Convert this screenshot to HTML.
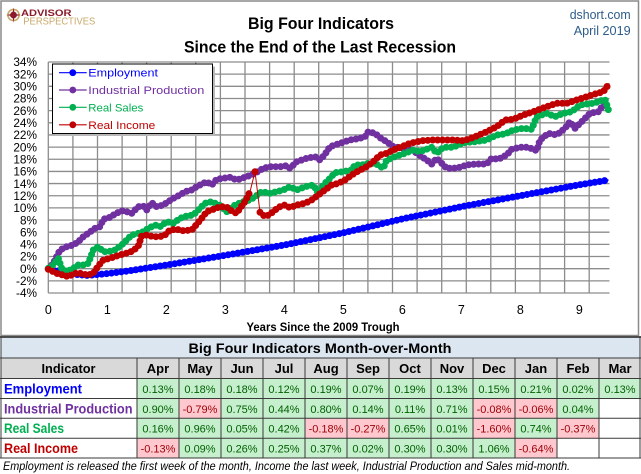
<!DOCTYPE html>
<html><head><meta charset="utf-8"><style>
html,body{margin:0;padding:0;background:#fff;}
svg{display:block;font-family:"Liberation Sans",sans-serif;}
</style></head><body>
<svg width="641" height="474" viewBox="0 0 641 474" xmlns="http://www.w3.org/2000/svg">
<rect x="0" y="0" width="641" height="474" fill="#fff"/>
<rect x="1" y="1" width="637.5" height="334.5" fill="#fff" stroke="#8a8a8a" stroke-width="1.5"/>
<circle cx="13.5" cy="15" r="5.6" fill="none" stroke="#c9a86a" stroke-width="1.6"/>
<circle cx="13.5" cy="15" r="3.4" fill="#8b1b2b"/>
<polygon points="13.5,7.5 14.6,13.9 21,15 14.6,16.1 13.5,22.5 12.4,16.1 6,15 12.4,13.9" fill="#8b1b2b"/>
<text x="21" y="16" font-size="9.6" font-weight="bold" fill="#8b1b2b" textLength="50.5" lengthAdjust="spacingAndGlyphs">ADVISOR</text>
<text x="23.3" y="24.3" font-size="9.8" fill="#c9a86a" textLength="72" lengthAdjust="spacingAndGlyphs">PERSPECTIVES</text>
<text x="321" y="29" font-size="17" font-weight="bold" text-anchor="middle" fill="#000" textLength="146" lengthAdjust="spacingAndGlyphs">Big Four Indicators</text>
<text x="320" y="52.5" font-size="17" font-weight="bold" text-anchor="middle" fill="#000" textLength="272" lengthAdjust="spacingAndGlyphs">Since the End of the Last Recession</text>
<text x="630.7" y="19" font-size="13" text-anchor="end" fill="#2e5c8a" textLength="61" lengthAdjust="spacingAndGlyphs">dshort.com</text>
<text x="630.7" y="35" font-size="13" text-anchor="end" fill="#2e5c8a" textLength="57" lengthAdjust="spacingAndGlyphs">April 2019</text>
<g stroke="#8c8c8c" stroke-width="1.3" fill="none">
<path d="M48.3 62H609.5M48.3 74.16H609.5M48.3 86.32H609.5M48.3 98.47H609.5M48.3 110.63H609.5M48.3 122.79H609.5M48.3 134.95H609.5M48.3 147.11H609.5M48.3 159.26H609.5M48.3 171.42H609.5M48.3 183.58H609.5M48.3 195.74H609.5M48.3 207.9H609.5M48.3 220.05H609.5M48.3 232.21H609.5M48.3 244.37H609.5M48.3 256.53H609.5M48.3 268.69H609.5M48.3 280.84H609.5M48.3 293H609.5"/>
<path d="M48.3 62V293M72.9 62V293M97.5 62V293M122.1 62V293M146.6 62V293M171.2 62V293M195.8 62V293M220.4 62V293M245 62V293M269.6 62V293M294.2 62V293M318.7 62V293M343.3 62V293M367.9 62V293M392.5 62V293M417.1 62V293M441.7 62V293M466.3 62V293M490.8 62V293M515.4 62V293M540 62V293M564.6 62V293M589.2 62V293"/>
</g>
<g font-size="11.8" fill="#000" text-anchor="end">
<text x="37" y="66.2">34%</text><text x="37" y="78.4">32%</text><text x="37" y="90.5">30%</text><text x="37" y="102.7">28%</text><text x="37" y="114.8">26%</text><text x="37" y="127">24%</text><text x="37" y="139.2">22%</text><text x="37" y="151.3">20%</text><text x="37" y="163.5">18%</text><text x="37" y="175.6">16%</text><text x="37" y="187.8">14%</text><text x="37" y="199.9">12%</text><text x="37" y="212.1">10%</text><text x="37" y="224.3">8%</text><text x="37" y="236.4">6%</text><text x="37" y="248.6">4%</text><text x="37" y="260.7">2%</text><text x="37" y="272.9">0%</text><text x="37" y="285">-2%</text><text x="37" y="297.2">-4%</text>
</g>
<g font-size="12.5" fill="#000" text-anchor="middle">
<text x="48.3" y="314">0</text><text x="107.3" y="314">1</text><text x="166.3" y="314">2</text><text x="225.3" y="314">3</text><text x="284.3" y="314">4</text><text x="343.3" y="314">5</text><text x="402.3" y="314">6</text><text x="461.3" y="314">7</text><text x="520.3" y="314">8</text><text x="579.3" y="314">9</text>
</g>
<text x="323" y="331" font-size="12" font-weight="bold" text-anchor="middle" fill="#000" textLength="153" lengthAdjust="spacingAndGlyphs">Years Since the 2009 Trough</text>

<g fill="none" stroke-linejoin="round">
<polyline stroke="#0000ff" stroke-width="1" points="48.3,268.7 58.1,271.1 72.9,274.2 87.6,275.4 107.3,273.6 127,271.1 146.6,268.1 166.3,265.1 195.8,260.2 225.3,255.3 284.3,245 343.3,232.8 402.3,218.9 461.3,206.7 520.3,195.7 579.3,184.8 608.8,180"/>
<polyline stroke="#0000ff" stroke-width="7" stroke-linecap="round" stroke-dasharray="0 4.92" points="48.3,268.7 58.1,271.1 72.9,274.2 87.6,275.4 107.3,273.6 127,271.1 146.6,268.1 166.3,265.1 195.8,260.2 225.3,255.3 284.3,245 343.3,232.8 402.3,218.9 461.3,206.7 520.3,195.7 579.3,184.8 608.8,180"/>
<polyline stroke="#7030a0" stroke-width="1" points="48.3,268.7 53.3,263.3 60,250 66.7,246.7 73.3,245 78.3,241.7 83.3,236.7 88.3,233.3 95,228.3 100,226.7 103.3,219.3 110,217.3 115,214 121.7,210.7 126.7,211.7 131.7,213.3 138.3,206.7 143.3,206 146.7,210 151.7,202.7 156.7,206.7 163.3,205 168.3,201.7 173.3,198.3 180,195 185,191.7 191.7,190 196.7,186.7 203.3,183.3 206.7,181.7 211.7,185 216.7,179.3 223.3,178.3 230,177.3 236.7,180 246.7,176.7 255,173.3 263.3,168.3 270,166.7 280,166.7 286.7,165.7 290,168.3 296.7,161.7 306.7,158.3 315,156.7 320,160 325,154.3 330,146.7 340,143.3 350,140 360,138.3 365,136.7 368.3,131.7 375,133.3 380,137.7 386.7,141.7 393.3,146.7 401,148 410,148.3 416.7,153.3 426.7,160 431.7,164 436.7,158.3 441.7,163.3 446.7,168.3 453.3,168.3 460,167.3 466.7,165 476.7,164 486.7,164 491.7,158.3 498.3,159.3 506.7,155 511.7,149.3 520,147.3 528.3,147.3 536.7,150.7 540,140 548.3,133.3 556.7,135 565,128.3 570,121.7 575,128.3 581.7,121.7 590,113.3 598.3,111.7 603.3,105 609,105"/>
<polyline stroke="#7030a0" stroke-width="7" stroke-linecap="round" stroke-dasharray="0 4.92" points="48.3,268.7 53.3,263.3 60,250 66.7,246.7 73.3,245 78.3,241.7 83.3,236.7 88.3,233.3 95,228.3 100,226.7 103.3,219.3 110,217.3 115,214 121.7,210.7 126.7,211.7 131.7,213.3 138.3,206.7 143.3,206 146.7,210 151.7,202.7 156.7,206.7 163.3,205 168.3,201.7 173.3,198.3 180,195 185,191.7 191.7,190 196.7,186.7 203.3,183.3 206.7,181.7 211.7,185 216.7,179.3 223.3,178.3 230,177.3 236.7,180 246.7,176.7 255,173.3 263.3,168.3 270,166.7 280,166.7 286.7,165.7 290,168.3 296.7,161.7 306.7,158.3 315,156.7 320,160 325,154.3 330,146.7 340,143.3 350,140 360,138.3 365,136.7 368.3,131.7 375,133.3 380,137.7 386.7,141.7 393.3,146.7 401,148 410,148.3 416.7,153.3 426.7,160 431.7,164 436.7,158.3 441.7,163.3 446.7,168.3 453.3,168.3 460,167.3 466.7,165 476.7,164 486.7,164 491.7,158.3 498.3,159.3 506.7,155 511.7,149.3 520,147.3 528.3,147.3 536.7,150.7 540,140 548.3,133.3 556.7,135 565,128.3 570,121.7 575,128.3 581.7,121.7 590,113.3 598.3,111.7 603.3,105 609,105"/>
<polyline stroke="#00b050" stroke-width="1" points="48.3,268.3 53.3,265 58.3,258.3 61.7,268.3 66.7,271.7 73.3,268.3 78.3,265 83.3,265 88.3,263.3 93.3,250 98.3,246.7 103.3,251.7 108.3,251.7 115,250 121.7,245 126.7,240 131.7,235 138.3,233.3 143.3,231.7 148.3,228.3 155,225 160,226.7 166.7,221.7 173.3,223.3 180,218.3 186.7,216 193.3,215 198.3,210 205,203.3 211.7,201.7 220,205.5 226.7,211.7 235,205 243.3,201.7 250,200 255,196.7 261.7,191.7 270,193.3 276.7,191.7 283.3,190 290,186.7 296.7,190 305,186.7 313.3,185 318.3,193.3 323.3,185 330,178.3 335,172.7 343.3,171.7 351.7,170 355,165 361.7,165 368.3,163.3 375,163.3 383.3,168.3 386.7,160 395,156.7 405,153.3 413.3,150 420,151.7 431.7,147.3 436.7,153.3 443.3,147.3 453.3,147.3 463.3,142.7 475,141.7 486.7,140 496.7,135 505,134 513.3,130 523.3,128.3 531.7,129.3 536.7,116.7 546.7,113.3 555,116.7 563.3,113.3 571.7,111.7 580,105 586.7,104 593.3,103.3 598.3,101.7 605,99.3 609.3,112.7"/>
<polyline stroke="#00b050" stroke-width="7" stroke-linecap="round" stroke-dasharray="0 4.92" points="48.3,268.3 53.3,265 58.3,258.3 61.7,268.3 66.7,271.7 73.3,268.3 78.3,265 83.3,265 88.3,263.3 93.3,250 98.3,246.7 103.3,251.7 108.3,251.7 115,250 121.7,245 126.7,240 131.7,235 138.3,233.3 143.3,231.7 148.3,228.3 155,225 160,226.7 166.7,221.7 173.3,223.3 180,218.3 186.7,216 193.3,215 198.3,210 205,203.3 211.7,201.7 220,205.5 226.7,211.7 235,205 243.3,201.7 250,200 255,196.7 261.7,191.7 270,193.3 276.7,191.7 283.3,190 290,186.7 296.7,190 305,186.7 313.3,185 318.3,193.3 323.3,185 330,178.3 335,172.7 343.3,171.7 351.7,170 355,165 361.7,165 368.3,163.3 375,163.3 383.3,168.3 386.7,160 395,156.7 405,153.3 413.3,150 420,151.7 431.7,147.3 436.7,153.3 443.3,147.3 453.3,147.3 463.3,142.7 475,141.7 486.7,140 496.7,135 505,134 513.3,130 523.3,128.3 531.7,129.3 536.7,116.7 546.7,113.3 555,116.7 563.3,113.3 571.7,111.7 580,105 586.7,104 593.3,103.3 598.3,101.7 605,99.3 609.3,112.7"/>
<polyline stroke="#c00000" stroke-width="1" points="48.3,269.3 53.3,271.7 58.3,274 63.3,275 68.3,276.7 73.3,274 78.3,272.7 83.3,274.3 88.3,275 93.3,273.3 98.3,266 103.3,260 110,258.3 116.7,256 123.3,254 128.3,252.7 133.3,250.7 138.3,246 141.7,236 146.7,235 153.3,236.7 160,236.7 165,235 170,230 176.7,229.3 183.3,230.7 191.7,230 196.7,224.3 201.7,218.3 206.7,211.7 213.3,209.3 220,206.7 226.7,207 231.7,211 236.7,213.3 240,208.3 245,201.7 250,191.7 255,171.7 260,212.3 265,216.7 270,214.3 275,210 280,206.7 285,205 290,207.7 296.7,205 305,203.3 311.7,200 318.3,195 325,190 331.7,185 338.3,183.3 345,180 351.7,175 358.3,171 366.7,166.7 373.3,161.7 380,155 386.7,153.3 393.3,150 401.7,146.7 410,143.3 421.7,140.7 433.3,140 443.3,140 453.3,140 463.3,140.7 470,138.7 476.7,136 486.7,131.7 496.7,126.7 505,120 513.3,119.3 523.3,115 533.3,111.7 546.7,106.7 556.7,103.3 566.7,103.3 576.7,100 586.7,96.7 595,94 603.3,91.7 609.3,83.3"/>
<polyline stroke="#c00000" stroke-width="7" stroke-linecap="round" stroke-dasharray="0 4.92" points="48.3,269.3 53.3,271.7 58.3,274 63.3,275 68.3,276.7 73.3,274 78.3,272.7 83.3,274.3 88.3,275 93.3,273.3 98.3,266 103.3,260 110,258.3 116.7,256 123.3,254 128.3,252.7 133.3,250.7 138.3,246 141.7,236 146.7,235 153.3,236.7 160,236.7 165,235 170,230 176.7,229.3 183.3,230.7 191.7,230 196.7,224.3 201.7,218.3 206.7,211.7 213.3,209.3 220,206.7 226.7,207 231.7,211 236.7,213.3 240,208.3 245,201.7 250,191.7"/>
<polyline stroke="#c00000" stroke-width="7" stroke-linecap="round" stroke-dasharray="0 4.92" points="260,212.3 265,216.7 270,214.3 275,210 280,206.7 285,205 290,207.7 296.7,205 305,203.3 311.7,200 318.3,195 325,190 331.7,185 338.3,183.3 345,180 351.7,175 358.3,171 366.7,166.7 373.3,161.7 380,155 386.7,153.3 393.3,150 401.7,146.7 410,143.3 421.7,140.7 433.3,140 443.3,140 453.3,140 463.3,140.7 470,138.7 476.7,136 486.7,131.7 496.7,126.7 505,120 513.3,119.3 523.3,115 533.3,111.7 546.7,106.7 556.7,103.3 566.7,103.3 576.7,100 586.7,96.7 595,94 603.3,91.7 609.3,83.3"/>
<circle cx="255" cy="171.7" r="3.5" fill="#c00000"/>
</g>

<rect x="55" y="66.5" width="160" height="69.5" fill="#b8b8b8"/>
<rect x="52.5" y="64" width="160" height="69.5" fill="#fff" stroke="#000" stroke-width="1"/>
<g stroke-width="1.2">
<line x1="59" y1="72.7" x2="86.7" y2="72.7" stroke="#0000ff"/><circle cx="72.8" cy="72.7" r="3.4" fill="#0000ff"/>
<line x1="59" y1="90" x2="86.7" y2="90" stroke="#7030a0"/><circle cx="72.8" cy="90" r="3.4" fill="#7030a0"/>
<line x1="59" y1="107.3" x2="86.7" y2="107.3" stroke="#00b050"/><circle cx="72.8" cy="107.3" r="3.4" fill="#00b050"/>
<line x1="59" y1="124.8" x2="86.7" y2="124.8" stroke="#c00000"/><circle cx="72.8" cy="124.8" r="3.4" fill="#c00000"/>
</g>
<g font-size="11">
<text x="88.3" y="76.7" fill="#0000ff" textLength="69.7" lengthAdjust="spacingAndGlyphs">Employment</text>
<text x="88.3" y="94" fill="#7030a0" textLength="116" lengthAdjust="spacingAndGlyphs">Industrial Production</text>
<text x="88.3" y="111.3" fill="#00b050" textLength="55" lengthAdjust="spacingAndGlyphs">Real Sales</text>
<text x="88.3" y="128.8" fill="#c00000" textLength="67" lengthAdjust="spacingAndGlyphs">Real Income</text>
</g>

<rect x="1" y="337" width="639" height="21" fill="#dce6f1"/>
<rect x="1" y="358" width="639" height="20.5" fill="#d9d9d9"/>
<g>
<rect x="137" y="378.5" width="504" height="20" fill="#c6efce"/>
<rect x="137" y="398.5" width="42" height="19.8" fill="#c6efce"/>
<rect x="179" y="398.5" width="42" height="19.8" fill="#ffc7ce"/>
<rect x="221" y="398.5" width="252" height="19.8" fill="#c6efce"/>
<rect x="473" y="398.5" width="84" height="19.8" fill="#ffc7ce"/>
<rect x="557" y="398.5" width="42" height="19.8" fill="#c6efce"/>
<rect x="137" y="418.3" width="168" height="19.9" fill="#c6efce"/>
<rect x="305" y="418.3" width="84" height="19.9" fill="#ffc7ce"/>
<rect x="389" y="418.3" width="84" height="19.9" fill="#c6efce"/>
<rect x="473" y="418.3" width="42" height="19.9" fill="#ffc7ce"/>
<rect x="515" y="418.3" width="42" height="19.9" fill="#c6efce"/>
<rect x="557" y="418.3" width="42" height="19.9" fill="#ffc7ce"/>
<rect x="137" y="438.2" width="42" height="19.8" fill="#ffc7ce"/>
<rect x="179" y="438.2" width="336" height="19.8" fill="#c6efce"/>
<rect x="515" y="438.2" width="42" height="19.8" fill="#ffc7ce"/>
</g>
<g stroke="#3a3a3a" stroke-width="1" fill="none">
<line x1="0" y1="337" x2="641" y2="337" stroke-width="1.8"/>
<path d="M1 337V458M640 337V458M0 358H641M0 378.5H641M0 398.5H641M0 418.3H641M0 438.2H641M0 458H641"/>
<path d="M137 358V458M179 358V458M221 358V458M263 358V458M305 358V458M347 358V458M389 358V458M431 358V458M473 358V458M515 358V458M557 358V458M599 358V458"/>
</g>
<text x="320" y="353" font-size="14" font-weight="bold" text-anchor="middle" fill="#000" textLength="263" lengthAdjust="spacingAndGlyphs">Big Four Indicators Month-over-Month</text>
<g font-size="13" font-weight="bold" text-anchor="middle" fill="#000">
<text x="68.5" y="373" textLength="54" lengthAdjust="spacingAndGlyphs">Indicator</text>
<text x="158" y="373">Apr</text><text x="200" y="373">May</text><text x="242" y="373">Jun</text><text x="284" y="373">Jul</text><text x="326" y="373">Aug</text><text x="368" y="373">Sep</text><text x="410" y="373">Oct</text><text x="452" y="373">Nov</text><text x="494" y="373">Dec</text><text x="536" y="373">Jan</text><text x="578" y="373">Feb</text><text x="620" y="373">Mar</text>
</g>
<g font-size="14" font-weight="bold">
<text x="4" y="393.5" fill="#0000ff" textLength="78" lengthAdjust="spacingAndGlyphs">Employment</text>
<text x="4" y="413.3" fill="#7030a0" textLength="128.5" lengthAdjust="spacingAndGlyphs">Industrial Production</text>
<text x="4" y="433" fill="#00b050" textLength="60" lengthAdjust="spacingAndGlyphs">Real Sales</text>
<text x="4" y="452.8" fill="#c00000" textLength="74" lengthAdjust="spacingAndGlyphs">Real Income</text>
</g>
<g font-size="11" text-anchor="middle">
<g fill="#006100">
<text x="158" y="393">0.13%</text><text x="200" y="393">0.18%</text><text x="242" y="393">0.18%</text><text x="284" y="393">0.12%</text><text x="326" y="393">0.19%</text><text x="368" y="393">0.07%</text><text x="410" y="393">0.19%</text><text x="452" y="393">0.13%</text><text x="494" y="393">0.15%</text><text x="536" y="393">0.21%</text><text x="578" y="393">0.02%</text><text x="620" y="393">0.13%</text>
<text x="158" y="412.8">0.90%</text><text x="242" y="412.8">0.75%</text><text x="284" y="412.8">0.44%</text><text x="326" y="412.8">0.80%</text><text x="368" y="412.8">0.14%</text><text x="410" y="412.8">0.11%</text><text x="452" y="412.8">0.71%</text><text x="578" y="412.8">0.04%</text>
<text x="158" y="432.6">0.16%</text><text x="200" y="432.6">0.96%</text><text x="242" y="432.6">0.05%</text><text x="284" y="432.6">0.42%</text><text x="410" y="432.6">0.65%</text><text x="452" y="432.6">0.01%</text><text x="536" y="432.6">0.74%</text>
<text x="200" y="452.4">0.09%</text><text x="242" y="452.4">0.26%</text><text x="284" y="452.4">0.25%</text><text x="326" y="452.4">0.37%</text><text x="368" y="452.4">0.02%</text><text x="410" y="452.4">0.30%</text><text x="452" y="452.4">0.30%</text><text x="494" y="452.4">1.06%</text>
</g>
<g fill="#9c0006">
<text x="200" y="412.8">-0.79%</text><text x="494" y="412.8">-0.08%</text><text x="536" y="412.8">-0.06%</text>
<text x="326" y="432.6">-0.18%</text><text x="368" y="432.6">-0.27%</text><text x="494" y="432.6">-1.60%</text><text x="578" y="432.6">-0.37%</text>
<text x="158" y="452.4">-0.13%</text><text x="536" y="452.4">-0.64%</text>
</g>
</g>
<text x="3" y="470" font-size="12" font-style="italic" fill="#000" textLength="567" lengthAdjust="spacingAndGlyphs">Employment is released the first week of the month, Income the last week, Industrial Production and Sales mid-month.</text>
</svg>
</body></html>
